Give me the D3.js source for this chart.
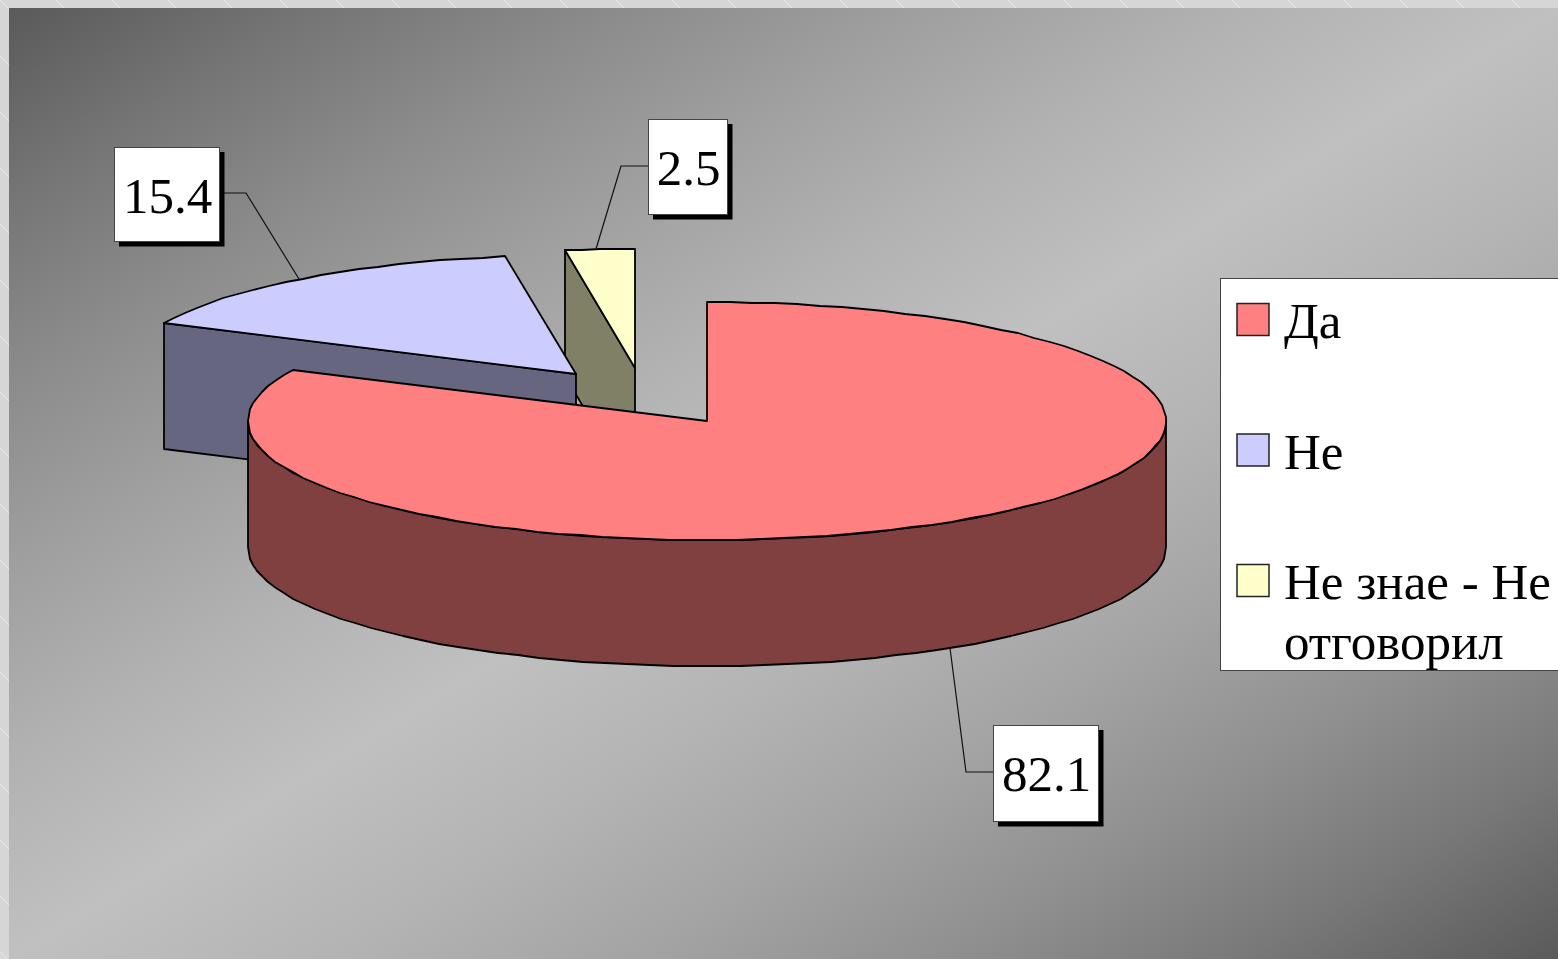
<!DOCTYPE html>
<html>
<head>
<meta charset="utf-8">
<script src="https://cdn.jsdelivr.net/npm/d3@7/dist/d3.min.js"></script>
<style>html,body{margin:0;padding:0;background:#d6d6d6;overflow:hidden}svg{display:block}text{font-family:"Liberation Serif",serif;fill:#000}</style>
</head>
<body>
<svg id="chart" width="1558" height="959"></svg>
<script>
const categories = ["Да", "Не", "Не знае - Не отговорил"];
const values = [82.1, 15.4, 2.5];
const legendLines = [["Да"], ["Не"], ["Не знае - Не", "отговорил"]];
const topColors = ["#FF8080", "#CCCCFF", "#FFFFCC"];
const wallColors = ["#804040", "#666680", "#808066"];

const W = 1558, H = 959;
const svg = d3.select("#chart");
const defs = svg.append("defs");

const grad = defs.append("linearGradient").attr("id", "bg").attr("x1", 0).attr("y1", 0).attr("x2", 1).attr("y2", 1);
[[0, "#5a5a5a"], [0.1, "#757575"], [0.2, "#8c8c8c"], [0.3, "#a0a0a0"], [0.4, "#b2b2b2"], [0.5, "#c0c0c0"],
 [0.6, "#b4b4b4"], [0.7, "#a4a4a4"], [0.8, "#909090"], [0.9, "#787878"], [1, "#5a5a5a"]]
  .forEach(s => grad.append("stop").attr("offset", s[0]).attr("stop-color", s[1]));

const pat = defs.append("pattern").attr("id", "frame").attr("width", 56).attr("height", 56)
  .attr("patternUnits", "userSpaceOnUse");
pat.append("rect").attr("width", 56).attr("height", 56).attr("fill", "#d6d6d6");
pat.append("path").attr("d", "M0 0L56 56").attr("stroke", "#eaeaea").attr("stroke-width", 1);

svg.append("rect").attr("width", W).attr("height", H).attr("fill", "url(#frame)");
svg.append("rect").attr("x", 9).attr("y", 8).attr("width", W - 9).attr("height", H - 8).attr("fill", "url(#bg)");

// 3D pie projection
const cx = 707, cy = 421, rx = 459, ry = 119, depth = 126;
const sx = d3.scaleLinear().domain([-1, 1]).range([-rx, rx]);
const sy = d3.scaleLinear().domain([-1, 1]).range([-ry, ry]);
const explode = [[0, 0], [-131, -47], [-72, -53]];
const widthScale = [1, 0.995, 0.98];

const arcs = d3.pie().sort(null).value(d => d).startAngle(0).endAngle(2 * Math.PI)(values);
const line = d3.line();

function rim(a0, a1, ox, oy, dz, k) {
  const n = Math.max(2, Math.ceil(Math.abs(a1 - a0) / 0.05));
  return d3.range(n + 1).map(i => {
    const a = a0 + (a1 - a0) * i / n;
    return [Math.round(cx + ox + k * sx(Math.sin(a))), Math.round(cy + oy + dz - sy(Math.cos(a)))];
  });
}

const gPie = svg.append("g").attr("stroke", "#000").attr("stroke-width", 1.8).attr("stroke-linejoin", "round");

function drawSlice(i) {
  const s = arcs[i], ox = explode[i][0], oy = explode[i][1], k = widthScale[i];
  const apex = [cx + ox, cy + oy];
  const outer = rim(s.startAngle, s.endAngle, ox, oy, 0, k);
  if (i === 0) {
    const a0 = Math.PI / 2, a1 = Math.PI * 1.5;
    const up = rim(a0, a1, ox, oy, 0, k), down = rim(a1, a0, ox, oy, depth, k);
    gPie.append("path").attr("d", line(up.concat(down)) + "Z").attr("fill", wallColors[i]);
  } else {
    const e = outer[0];
    const quad = [e, apex, [apex[0], apex[1] + depth], [e[0], e[1] + depth]];
    gPie.append("path").attr("d", line(quad) + "Z").attr("fill", wallColors[i]);
  }
  gPie.append("path").attr("d", line([apex].concat(outer)) + "Z").attr("fill", topColors[i]);
}
[2, 1, 0].forEach(drawSlice);

// leader lines and value labels
const labelBoxes = [
  { x: 993, y: 725, w: 105, h: 96 },
  { x: 114, y: 147, w: 105, h: 94 },
  { x: 648, y: 119, w: 79, h: 95 }
];
const leaders = [
  [[994, 772], [966, 772], [950, 648]],
  [[219, 193], [246, 193], [299, 279]],
  [[649, 166], [621, 166], [596, 249]]
];
const gLab = svg.append("g");
values.forEach((v, i) => {
  const b = labelBoxes[i];
  gLab.append("path").attr("d", line(leaders[i])).attr("fill", "none").attr("stroke", "#111").attr("stroke-width", 1.2);
  gLab.append("rect").attr("x", b.x + 5).attr("y", b.y + 5).attr("width", b.w + 0.5).attr("height", b.h + 0.5).attr("fill", "#000");
  gLab.append("rect").attr("x", b.x + 0.5).attr("y", b.y + 0.5).attr("width", b.w).attr("height", b.h)
    .attr("fill", "#fff").attr("stroke", "#444").attr("stroke-width", 1);
  gLab.append("text").attr("x", b.x + b.w / 2 + 1).attr("y", b.y + 66)
    .attr("text-anchor", "middle").attr("font-size", 51).text(v.toFixed(1));
});

// legend
const gLeg = svg.append("g");
gLeg.append("rect").attr("x", 1220.5).attr("y", 278.5).attr("width", 340).attr("height", 392)
  .attr("fill", "#fff").attr("stroke", "#444").attr("stroke-width", 1);
const legendY = d3.scalePoint().domain(categories).range([303, 564]);
categories.forEach((c, i) => {
  const y = legendY(c);
  gLeg.append("rect").attr("x", 1237).attr("y", y + 0.5).attr("width", 32).attr("height", 32)
    .attr("fill", topColors[i]).attr("stroke", "#222").attr("stroke-width", 1.5);
  legendLines[i].forEach((t, j) => {
    gLeg.append("text").attr("x", 1284).attr("y", y + 35 + j * 60).attr("font-size", 51).text(t);
  });
});
</script>
</body>
</html>
